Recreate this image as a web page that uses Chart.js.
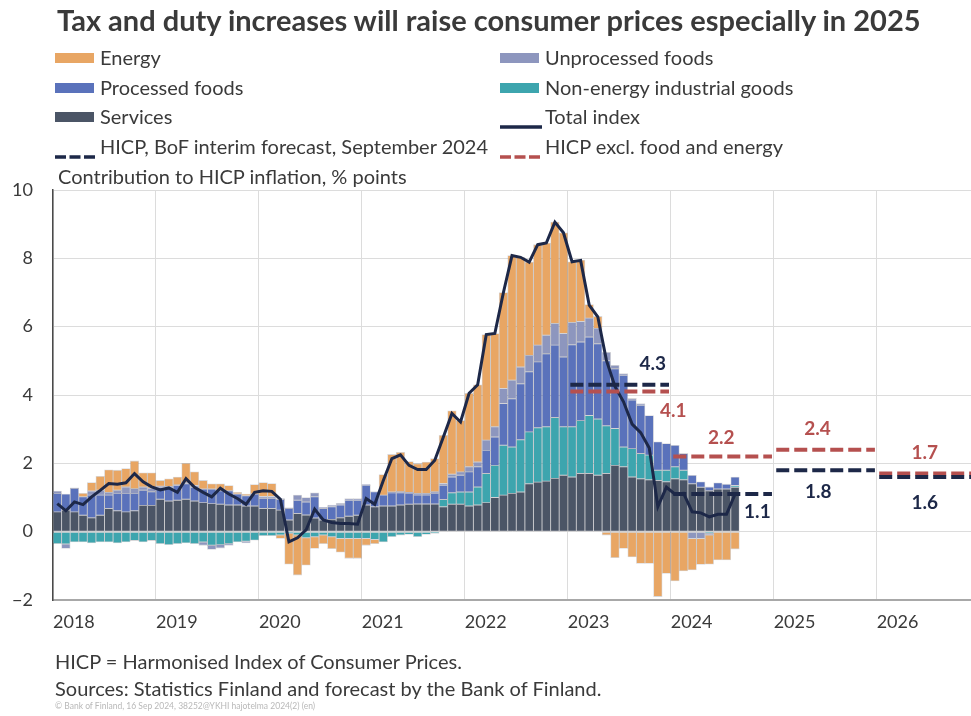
<!DOCTYPE html>
<html>
<head>
<meta charset="utf-8">
<script src="https://cdn.jsdelivr.net/npm/chart.js@4.4.1/dist/chart.umd.min.js"></script>
<style>
  body { margin: 0; background: #fff; font-family: Lato, sans-serif; color: #333; }
  #wrap { position: relative; width: 971px; height: 716px; overflow: hidden; }
  #chart { position: absolute; left: 0; top: 0; }
  .txt { position: absolute; white-space: nowrap; line-height: 1; }
  .title { left: 57px; top: 5px; font-size: 29px; font-weight: 700; color: #3a3a3a; }
  .leg { font-size: 20px; color: #3a3a3a; }
  .sw { position: absolute; }
  .note { left: 55px; font-size: 20px; color: #3a3a3a; }
  .copy { left: 55px; top: 702px; font-size: 8.5px; color: #b8b8b8; }
</style>
</head>
<body>
<div id="wrap">
  <canvas id="chart" width="971" height="716"></canvas>
  <div class="txt title">Tax and duty increases will raise consumer prices especially in 2025</div>
  <div id="legend"></div>
  <div class="txt leg" style="left:58px; top:166px;">Contribution to HICP inflation, % points</div>
  <div class="txt note" style="top:651px;">HICP = Harmonised Index of Consumer Prices.</div>
  <div class="txt note" style="top:678px;">Sources: Statistics Finland and forecast by the Bank of Finland.</div>
  <div class="txt copy">© Bank of Finland, 16 Sep 2024, 38252@YKHI hajotelma 2024(2) (en)</div>
</div>
<script>
// Monthly contributions, Jan 2018 – Aug 2024 (% points)
const services = [
  0.58, 0.63, 0.58, 0.48, 0.41, 0.48, 0.68, 0.61, 0.58, 0.61, 0.77, 0.77,
  0.95, 0.90, 0.92, 0.95, 0.90, 0.85, 0.82, 0.80, 0.78, 0.78, 0.75, 0.75,
  0.68, 0.68, 0.63, 0.34, 0.53, 0.49, 0.40, 0.34, 0.36, 0.41, 0.45, 0.48,
  0.78, 0.73, 0.75, 0.75, 0.78, 0.80, 0.81, 0.81, 0.81, 0.73, 0.80, 0.80,
  0.75, 0.78, 0.85, 1.00, 1.07, 1.12, 1.16, 1.40, 1.45, 1.48, 1.56, 1.65,
  1.60, 1.70, 1.70, 1.65, 1.70, 1.94, 1.90, 1.60, 1.55, 1.52, 1.50, 1.46,
  1.55, 1.52, 1.40, 1.30, 1.20, 1.25, 1.25, 1.30
];
const industrial = [
  -0.35, -0.36, -0.30, -0.30, -0.33, -0.30, -0.30, -0.33, -0.30, -0.26, -0.30, -0.26,
  -0.35, -0.38, -0.35, -0.33, -0.35, -0.30, -0.40, -0.38, -0.35, -0.30, -0.28, -0.25,
  -0.12, -0.12, -0.10, -0.05, -0.10, -0.18, -0.15, -0.10, -0.15, -0.20, -0.20, -0.20,
  -0.20, -0.23, -0.30, -0.15, -0.10, -0.08, -0.15, -0.08, -0.05, 0.21, 0.34, 0.36,
  0.41, 0.53, 0.85, 0.94, 1.46, 1.36, 1.53, 1.52, 1.59, 1.59, 1.78, 1.42,
  1.47, 1.55, 1.70, 1.65, 1.40, 1.08, 0.58, 0.83, 0.74, 0.72, 0.30, 0.34,
  0.35, 0.28, 0.00, 0.00, -0.05, 0.00, 0.00, 0.05
];
const processed = [
  0.54, 0.47, 0.68, 0.54, 0.66, 0.59, 0.39, 0.51, 0.54, 0.51, 0.44, 0.40,
  0.35, 0.40, 0.43, 0.45, 0.40, 0.40, 0.43, 0.40, 0.42, 0.32, 0.30, 0.35,
  0.30, 0.30, 0.31, 0.34, 0.39, 0.38, 0.62, 0.34, 0.37, 0.37, 0.47, 0.44,
  0.58, 0.44, 0.32, 0.39, 0.36, 0.32, 0.26, 0.26, 0.31, 0.42, 0.46, 0.49,
  0.59, 0.59, 0.68, 0.83, 1.22, 1.41, 1.64, 1.76, 1.93, 2.14, 2.12, 2.04,
  2.40, 2.30, 2.30, 2.20, 1.90, 1.75, 2.10, 1.42, 1.41, 1.16, 0.83, 0.78,
  0.63, 0.49, 0.25, 0.16, 0.11, 0.18, 0.14, 0.25
];
const unprocessed = [
  0.07, -0.13, 0.02, 0.00, 0.12, 0.14, 0.08, 0.09, 0.19, 0.14, 0.10, 0.10,
  0.03, 0.02, 0.02, 0.05, 0.05, -0.10, -0.12, -0.10, -0.05, 0.00, -0.05, 0.00,
  0.05, 0.05, 0.03, 0.02, 0.15, 0.13, 0.12, 0.03, 0.05, 0.05, 0.05, 0.05,
  0.02, 0.00, 0.00, 0.02, 0.03, 0.03, 0.05, 0.05, 0.05, 0.05, 0.08, 0.10,
  0.15, 0.14, 0.30, 0.30, 0.44, 0.54, 0.49, 0.48, 0.49, 0.54, 0.63, 0.69,
  0.65, 0.60, 0.55, 0.45, 0.25, 0.10, 0.05, 0.05, 0.05, 0.00, 0.00, 0.00,
  0.00, 0.00, -0.20, -0.20, -0.05, 0.00, 0.00, 0.00
];
const energy = [
  0.00, 0.00, 0.00, 0.10, 0.25, 0.41, 0.66, 0.59, 0.54, 0.81, 0.41, 0.45,
  0.17, 0.23, 0.23, 0.55, 0.40, 0.25, 0.15, 0.20, 0.15, 0.05, 0.05, 0.28,
  0.41, 0.38, -0.10, -0.90, -1.17, -0.80, -0.34, -0.25, -0.35, -0.40, -0.58, -0.58,
  -0.20, -0.12, 0.60, 1.10, 1.15, 0.90, 0.87, 0.92, 0.97, 1.41, 1.86, 1.50,
  2.15, 2.26, 3.09, 2.73, 2.81, 3.65, 3.21, 2.73, 2.94, 2.70, 2.97, 2.95,
  1.78, 1.80, 0.40, 0.35, -0.10, -0.76, -0.49, -0.74, -0.93, -0.93, -1.90, -1.22,
  -1.44, -1.15, -0.92, -0.76, -0.85, -0.83, -0.83, -0.51
];
const totalIndex = [
  0.82, 0.61, 0.87, 0.79, 1.02, 1.21, 1.41, 1.39, 1.43, 1.70, 1.46, 1.31,
  1.22, 1.28, 1.15, 1.55, 1.30, 1.15, 1.02, 1.27, 1.10, 0.97, 0.80, 1.15,
  1.20, 1.18, 0.95, -0.30, -0.18, 0.05, 0.66, 0.34, 0.27, 0.24, 0.24, 0.22,
  0.97, 0.80, 1.50, 2.14, 2.25, 1.94, 1.82, 1.82, 2.09, 2.77, 3.46, 3.21,
  4.05, 4.30, 5.77, 5.80, 7.00, 8.08, 8.03, 7.89, 8.40, 8.45, 9.06, 8.75,
  7.90, 7.94, 6.63, 6.29, 5.02, 4.25, 3.80, 3.15, 2.90, 2.45, 0.73, 1.30,
  1.10, 1.12, 0.58, 0.55, 0.43, 0.51, 0.51, 1.10
];

// Annual forecasts
const forecastYears = [2023, 2024, 2025, 2026];
const hicpForecast = [4.3, 1.1, 1.8, 1.6];
const coreForecast = [4.1, 2.2, 2.4, 1.7];

const yearLabels = ['2018', '2019', '2020', '2021', '2022', '2023', '2024', '2025', '2026'];

const NAVY = '#1d2848';
const RED = '#b5504f';
const colors = {
  energy: '#e8a664',
  unprocessed: '#8d96be',
  processed: '#5a72bb',
  industrial: '#3da5ae',
  services: '#4b5566'
};

// legend (html, two columns)
const legendItems = [
  { label: 'Energy', type: 'box', color: colors.energy },
  { label: 'Unprocessed foods', type: 'box', color: colors.unprocessed },
  { label: 'Processed foods', type: 'box', color: colors.processed },
  { label: 'Non-energy industrial goods', type: 'box', color: colors.industrial },
  { label: 'Services', type: 'box', color: colors.services },
  { label: 'Total index', type: 'line', color: NAVY },
  { label: 'HICP, BoF interim forecast, September 2024', type: 'dash', color: NAVY },
  { label: 'HICP excl. food and energy', type: 'dash', color: RED }
];
const legendEl = document.getElementById('legend');
legendItems.forEach((it, i) => {
  const col = i % 2, row = Math.floor(i / 2);
  const cy = 58 + row * 29.5;
  const sx = col ? 500 : 55;
  const tx = col ? 545 : 100;
  const sw = document.createElement('div');
  sw.className = 'sw';
  if (it.type === 'box') {
    sw.style.cssText = `left:${sx}px; top:${cy - 5}px; width:39px; height:10px; background:${it.color};`;
  } else {
    const dash = it.type === 'dash' ? 'stroke-dasharray="11 3.5"' : '';
    sw.style.cssText = `left:${sx}px; top:${cy - 3}px;`;
    sw.innerHTML = `<svg width="42" height="6"><line x1="0" y1="3" x2="42" y2="3" stroke="${it.color}" stroke-width="3.5" ${dash}/></svg>`;
  }
  legendEl.appendChild(sw);
  const t = document.createElement('div');
  t.className = 'txt leg';
  t.style.left = tx + 'px';
  t.style.top = (cy - 11) + 'px';
  t.textContent = it.label;
  legendEl.appendChild(t);
});

const pts = arr => arr.map((v, i) => ({ x: i + 0.5, y: v }));

// dashed annual segments, one per forecast year
function segments(vals) {
  const out = [];
  vals.forEach((v, k) => {
    const x0 = (forecastYears[k] - 2018) * 12;
    out.push({ x: x0 + 0.3, y: v }, { x: x0 + 11.8, y: v }, { x: x0 + 11.9, y: null });
  });
  return out;
}

// label placement: months into the year, pixel offset from the dashed line
const navyLabelAt = [9.9, 10.1, 5.2, 5.6];
const navyLabelDy = [-21, 18, 22, 26];
const redLabelAt = [12.3, 5.9, 5.1, 5.6];
const redLabelDy = [19, -19, -21, -21];

const valueLabels = {
  id: 'valueLabels',
  afterDatasetsDraw(chart) {
    const { ctx, scales: { x, y } } = chart;
    ctx.save();
    ctx.font = 'bold 19px Lato';
    ctx.textAlign = 'center';
    ctx.textBaseline = 'middle';
    forecastYears.forEach((yr, k) => {
      const x0 = (yr - 2018) * 12;
      ctx.fillStyle = NAVY;
      ctx.fillText(hicpForecast[k].toFixed(1), x.getPixelForValue(x0 + navyLabelAt[k]), y.getPixelForValue(hicpForecast[k]) + navyLabelDy[k]);
      ctx.fillStyle = RED;
      ctx.fillText(coreForecast[k].toFixed(1), x.getPixelForValue(x0 + redLabelAt[k]), y.getPixelForValue(coreForecast[k]) + redLabelDy[k]);
    });
    ctx.restore();
  }
};

const bar = (label, data, color) => ({
  type: 'bar', label, data: pts(data), backgroundColor: color,
  borderColor: 'rgba(40,40,50,0.18)', borderWidth: 0.8, borderSkipped: false,
  barPercentage: 1, categoryPercentage: 1, order: 2, yAxisID: 'y'
});

new Chart(document.getElementById('chart'), {
  type: 'bar',
  data: {
    datasets: [
      bar('Services', services, colors.services),
      bar('Non-energy industrial goods', industrial, colors.industrial),
      bar('Processed foods', processed, colors.processed),
      bar('Unprocessed foods', unprocessed, colors.unprocessed),
      bar('Energy', energy, colors.energy),
      { type: 'line', label: 'Total index', data: pts(totalIndex), borderColor: NAVY, borderWidth: 3,
        pointRadius: 0, tension: 0, order: 1, yAxisID: 'yl' },
      { type: 'line', label: 'HICP, BoF interim forecast', data: segments(hicpForecast), borderColor: NAVY,
        borderWidth: 4, borderDash: [13, 5], pointRadius: 0, spanGaps: false, order: 0, yAxisID: 'yl' },
      { type: 'line', label: 'HICP excl. food and energy', data: segments(coreForecast), borderColor: RED,
        borderWidth: 4, borderDash: [13, 5], pointRadius: 0, spanGaps: false, order: 0, yAxisID: 'yl' }
    ]
  },
  options: {
    responsive: false,
    animation: false,
    layout: { padding: { top: 190, left: 0, right: 0, bottom: 0 } },
    plugins: { legend: { display: false }, tooltip: { enabled: false } },
    scales: {
      x: {
        type: 'linear', min: 0, max: 107, stacked: true, offset: false,
        afterBuildTicks: s => { s.ticks = yearLabels.map((_, i) => ({ value: i * 12 })); },
        afterFit: s => { s.height = 116; },
        ticks: {
          align: 'start', padding: 11, color: '#3a3a3a', font: { family: 'Lato', size: 18 },
          callback: v => yearLabels[Math.round(v / 12)]
        },
        grid: { color: '#dcdcdc', drawTicks: false, offset: false },
        border: { color: '#a8a8a8', width: 2 }
      },
      y: {
        min: -2, max: 10, stacked: true,
        afterFit: s => { s.width = 53; },
        ticks: {
          stepSize: 2, padding: 20, color: '#3a3a3a', font: { family: 'Lato', size: 18 },
          callback: v => v < 0 ? '\u2212' + Math.abs(v) : v
        },
        grid: { color: '#dcdcdc', drawTicks: false },
        border: { color: '#4a4a4a', width: 1.5 }
      },
      yl: { min: -2, max: 10, display: false, stacked: false }
    }
  },
  plugins: [valueLabels]
});
</script>
</body>
</html>
